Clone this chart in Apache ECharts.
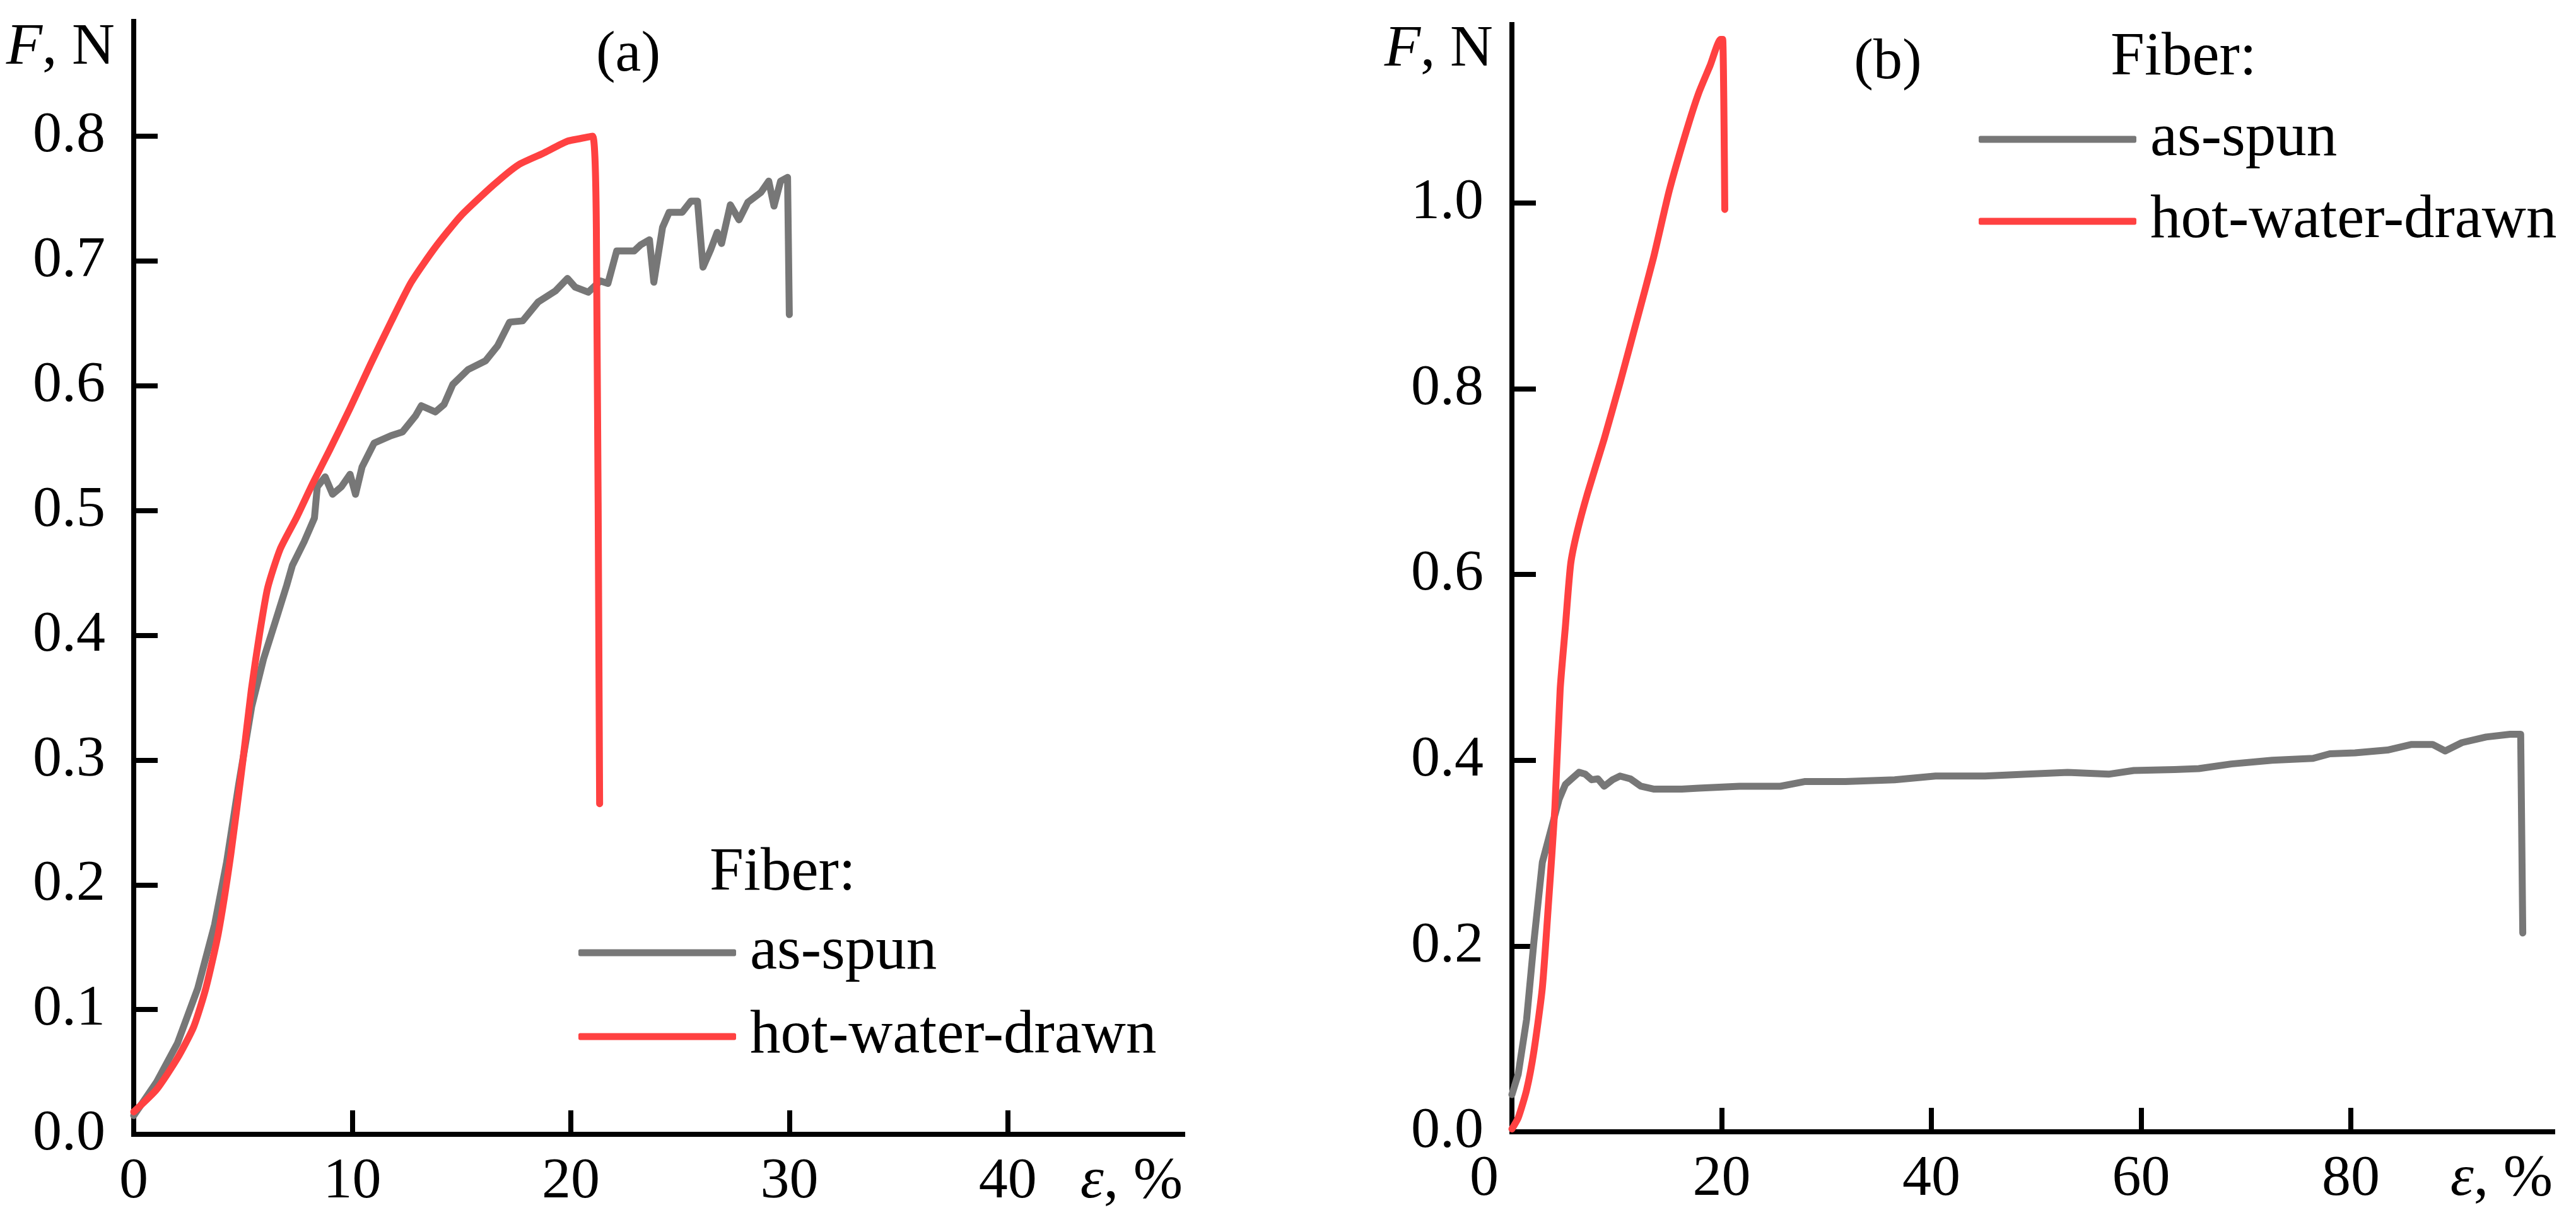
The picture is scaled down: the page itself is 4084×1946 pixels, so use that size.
<!DOCTYPE html>
<html>
<head>
<meta charset="utf-8">
<script src="https://cdn.jsdelivr.net/npm/echarts@6/dist/echarts.min.js"></script>
<style>
html,body{margin:0;padding:0;background:#fff;}
#chart{width:4084px;height:1946px;}
</style>
</head>
<body>
<div id="chart"></div>
<script>
// ---- Panel (a): strain (%) vs force (N)
const aSpunX = [0,1.05,2.0,2.93,3.7,4.25,4.8,5.4,5.94,6.5,7.0,7.26,7.8,8.27,8.4,8.76,9.1,9.5,9.9,10.15,10.45,11.0,11.77,12.3,12.9,13.16,13.8,14.2,14.6,15.3,16.1,16.65,17.2,17.8,18.5,19.3,19.85,20.2,20.8,21.35,21.7,22.1,22.9,23.2,23.6,23.8,24.2,24.5,25.1,25.5,25.8,26.05,26.4,26.7,26.9,27.3,27.7,28.1,28.7,29.06,29.3,29.6,29.92,30.0];
const aSpunY = [0.015,0.042,0.073,0.117,0.168,0.218,0.28,0.343,0.381,0.412,0.44,0.456,0.475,0.494,0.519,0.527,0.513,0.519,0.529,0.513,0.535,0.554,0.56,0.563,0.576,0.584,0.579,0.585,0.601,0.613,0.62,0.632,0.651,0.652,0.667,0.676,0.686,0.679,0.675,0.684,0.682,0.708,0.708,0.713,0.717,0.683,0.727,0.739,0.739,0.748,0.748,0.695,0.709,0.723,0.714,0.745,0.733,0.747,0.755,0.764,0.744,0.764,0.767,0.657];
const aHotX = [0,1.05,2.0,2.74,3.3,3.87,4.44,5.0,5.38,5.75,6.13,6.7,7.44,8.2,8.95,9.9,10.83,11.77,12.7,13.8,14.96,16.47,17.6,18.7,19.85,20.4,21.0,21.17,21.32];
const aHotY = [0.018,0.036,0.061,0.086,0.117,0.161,0.224,0.30,0.356,0.40,0.438,0.469,0.494,0.522,0.548,0.582,0.617,0.651,0.683,0.711,0.736,0.761,0.777,0.786,0.796,0.798,0.80,0.727,0.265];

// ---- Panel (b)
const bSpunX = [0,0.6,1.4,2.1,2.9,3.7,4.5,5.1,5.6,6.4,7.0,7.6,8.2,8.8,9.6,10.3,11.3,12.3,13.5,16.2,17.8,21.7,25.6,27.9,31.8,36.5,40.4,45.1,49.1,53.0,56.9,59.3,63.2,65.5,68.6,72.5,76.4,78.0,80.4,83.5,85.8,87.8,89.0,90.6,92.9,95.2,96.2,96.4];
const bSpunY = [0.04,0.062,0.121,0.205,0.29,0.324,0.358,0.374,0.379,0.387,0.385,0.379,0.38,0.372,0.379,0.383,0.38,0.372,0.369,0.369,0.37,0.372,0.372,0.377,0.377,0.379,0.383,0.383,0.385,0.387,0.385,0.389,0.39,0.391,0.396,0.40,0.402,0.407,0.408,0.411,0.417,0.417,0.41,0.419,0.425,0.428,0.428,0.214];
const bHotX = [0,0.6,1.4,2.1,2.9,3.5,4.1,4.6,5.1,5.6,6.2,7.2,8.8,10.3,11.9,13.5,15.0,16.6,17.8,18.9,19.9,20.1,20.3];
const bHotY = [0.003,0.015,0.045,0.087,0.155,0.248,0.349,0.476,0.544,0.611,0.645,0.687,0.746,0.806,0.873,0.941,1.013,1.076,1.118,1.148,1.176,1.176,0.993];

// ---- Axis ticks / labels
const aXTicks = [0,10,20,30,40];
const aYTicks = [0,0.1,0.2,0.3,0.4,0.5,0.6,0.7,0.8];
const bXTicks = [0,20,40,60,80];
const bYTicks = [0,0.2,0.4,0.6,0.8,1.0];
const seriesNames = ['as-spun','hot-water-drawn'];
const panelLabels = ['(a)','(b)'];
const legendTitle = 'Fiber:';

const FONT = "'Liberation Serif', 'DejaVu Serif', 'Noto Serif', Times, serif";
const GRAY = '#777777';
const RED = '#FF4141';

function pairs(xs, ys){ return xs.map((x,i)=>[x, ys[i]]); }

function xAxisCfg(gridIndex, max, ticks, shiftZero){
  return {
    type:'value', gridIndex, min:0, max,
    axisLine:{show:true, onZero:false, lineStyle:{color:'#000', width:8, cap:'square'}},
    axisTick:{show:true, inside:true, length:38, lineStyle:{color:'#000', width:8}, customValues:ticks},
    splitLine:{show:false},
    axisLabel:{
      customValues:ticks, margin:30, color:'#000', fontFamily:FONT, fontSize:92,
      formatter: v => (shiftZero && v === 0) ? '{z|0}' : String(v),
      rich:{ z:{fontFamily:FONT, fontSize:92, color:'#000', padding:[0,88,0,0]} }
    },
    name:'{i|ε}{n|, %}', nameLocation:'end', nameGap:0,
    nameTextStyle:{
      fontFamily:FONT, fontSize:94, color:'#000',
      align:'right', verticalAlign:'middle', padding:[150,0,0,0],
      rich:{ i:{fontFamily:FONT, fontSize:94, fontStyle:'italic', color:'#000'},
             n:{fontFamily:FONT, fontSize:94, color:'#000'} }
    }
  };
}
function yAxisCfg(gridIndex, max, ticks, gap){
  return {
    type:'value', gridIndex, min:0, max,
    axisLine:{show:true, onZero:false, lineStyle:{color:'#000', width:8, cap:'square'}},
    axisTick:{show:true, inside:true, length:38, lineStyle:{color:'#000', width:8}, customValues:ticks},
    splitLine:{show:false},
    axisLabel:{
      customValues:ticks, margin:45, color:'#000', fontFamily:FONT, fontSize:92,
      padding:[0,0,17,0],
      formatter: v => v.toFixed(1)
    },
    name:'{i|F}{n|, N}', nameLocation:'end', nameGap:gap,
    nameTextStyle:{
      fontFamily:FONT, fontSize:94, color:'#000',
      align:'right', verticalAlign:'middle', padding:[0,30,0,0],
      rich:{ i:{fontFamily:FONT, fontSize:94, fontStyle:'italic', color:'#000'},
             n:{fontFamily:FONT, fontSize:94, color:'#000'} }
    }
  };
}
function lineSeries(name, xi, data, color, smooth){
  return {
    type:'line', name, xAxisIndex:xi, yAxisIndex:xi, data,
    showSymbol:false, symbol:'none', smooth:smooth, clip:false,
    lineStyle:{color, width:11, cap:'round', join:'round'},
    itemStyle:{color}, animation:false
  };
}
function legendCfg(left, top, gap){
  return {
    orient:'vertical', left, top, padding:0, itemGap:gap,
    itemWidth:250, itemHeight:11, icon:'roundRect', selectedMode:false,
    data:seriesNames,
    textStyle:{fontFamily:FONT, fontSize:97, color:'#000', lineHeight:100, padding:[0,0,0,17]}
  };
}

const chart = echarts.init(document.getElementById('chart'), null, {renderer:'canvas'});
chart.setOption({
  backgroundColor:'#fff',
  animation:false,
  textStyle:{fontFamily:FONT},
  grid:[
    {left:212, top:34, width:1663, height:1765},
    {left:2397, top:39, width:1650, height:1756}
  ],
  xAxis:[ xAxisCfg(0, 48, aXTicks, false), xAxisCfg(1, 99.25, bXTicks, true) ],
  yAxis:[ yAxisCfg(0, 0.892, aYTicks, -42), yAxisCfg(1, 1.192, bYTicks, -40) ],
  legend:[ legendCfg(917, 1461, 33), legendCfg(3137, 171, 30) ],
  series:[
    lineSeries(seriesNames[0], 0, pairs(aSpunX, aSpunY), GRAY, false),
    lineSeries(seriesNames[1], 0, pairs(aHotX, aHotY), RED, 0.2),
    lineSeries(seriesNames[0], 1, pairs(bSpunX, bSpunY), GRAY, false),
    lineSeries(seriesNames[1], 1, pairs(bHotX, bHotY), RED, 0.2)
  ],
  graphic:[
    {type:'text', x:996, y:88, style:{text:panelLabels[0], fontFamily:FONT, fontSize:92, fill:'#000', align:'center', verticalAlign:'middle'}},
    {type:'text', x:2993, y:100, style:{text:panelLabels[1], fontFamily:FONT, fontSize:92, fill:'#000', align:'center', verticalAlign:'middle'}},
    {type:'text', x:1125, y:1386, style:{text:legendTitle, fontFamily:FONT, fontSize:97, fill:'#000', align:'left', verticalAlign:'middle'}},
    {type:'text', x:3346, y:93, style:{text:legendTitle, fontFamily:FONT, fontSize:97, fill:'#000', align:'left', verticalAlign:'middle'}}
  ]
});
</script>
</body>
</html>
